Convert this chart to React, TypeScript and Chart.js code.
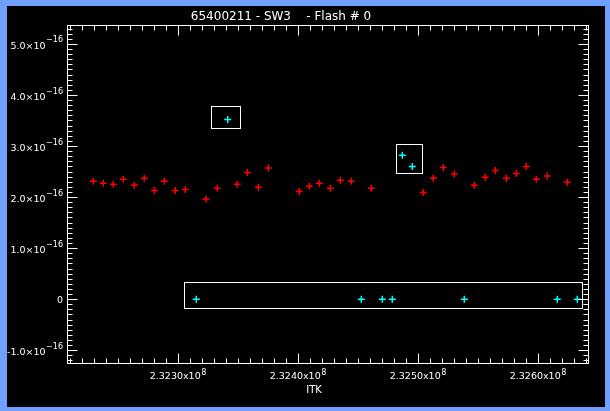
import React, { useEffect, useRef } from 'react';
import { Chart, registerables } from 'chart.js';

Chart.register(...registerables);

const TITLE = '65400211 - SW3    - Flash # 0';
const X_TITLE = 'ITK';

const X_MIN = 232207500;
const X_MAX = 232642500;
const Y_MIN = -1.27; // units of 1e-16
const Y_MAX = 5.37;

const xMajorTicks = [232300000, 232400000, 232500000, 232600000];
const xTickLabels = ['2.3230x10', '2.3240x10', '2.3250x10', '2.3260x10'];
const xTickExp = '8';

const yMajorTicks = [-1, 0, 1, 2, 3, 4, 5];
const yTickLabels = ['-1.0\u00d710', '0', '1.0\u00d710', '2.0\u00d710', '3.0\u00d710', '4.0\u00d710', '5.0\u00d710'];
const yTickExp = '\u221216';

// good points (red)
const redX = [
  232229417, 232237750, 232246083, 232254417, 232263583, 232271917, 232280250, 232288583,
  232297750, 232306083, 232323333, 232332750, 232349417, 232357750, 232366917, 232375250,
  232401083, 232409417, 232417750, 232426917, 232435250, 232444417, 232461083, 232504417,
  232512750, 232521083, 232530250, 232546917, 232556083, 232564417, 232573583, 232581917,
  232590250, 232598583, 232607750, 232624417,
];
const redY = [
  2.31, 2.27, 2.25, 2.35, 2.23, 2.37, 2.13, 2.31,
  2.13, 2.15, 1.96, 2.17, 2.25, 2.48, 2.19, 2.57,
  2.11, 2.21, 2.27, 2.17, 2.33, 2.31, 2.17, 2.09,
  2.37, 2.58, 2.45, 2.23, 2.39, 2.52, 2.37, 2.46,
  2.60, 2.35, 2.41, 2.29,
];

// flagged points (cyan)
const cyanX = [
  232315250, 232341417, 232452750, 232470250, 232478583,
  232486917, 232495250, 232538583, 232616083, 232632750,
];
const cyanY = [0, 3.52, 0, 0, 0, 2.82, 2.6, 0, 0, 0];

// flag boxes (data units)
const boxX0 = [232327750, 232481917, 232305250];
const boxX1 = [232351917, 232503583, 232637000];
const boxY0 = [3.36, 2.48, -0.18];
const boxY1 = [3.79, 3.03, 0.34];

const FONT = '"DejaVu Sans", sans-serif';

const idlPlugin = {
  id: 'idlAxes',
  afterDraw(chart: any) {
    const { ctx, chartArea: a, scales } = chart;
    const xs = scales.x;
    const ys = scales.y;
    const px = (v: number) => Math.round(xs.getPixelForValue(v)) + 0.5;
    const py = (v: number) => Math.round(ys.getPixelForValue(v)) + 0.5;
    ctx.save();
    ctx.strokeStyle = '#ffffff';
    ctx.lineWidth = 1;
    const L = Math.round(a.left) + 0.5;
    const R = Math.round(a.right) - 0.5;
    const T = Math.round(a.top) + 0.5;
    const B = Math.round(a.bottom) - 0.5;
    ctx.strokeRect(L, T, R - L, B - T);

    ctx.beginPath();
    for (let i = -12; i <= 53; i++) {
      const y = py(i / 10);
      const len = i % 10 === 0 ? 10 : 5;
      ctx.moveTo(L, y);
      ctx.lineTo(L + len, y);
      ctx.moveTo(R, y);
      ctx.lineTo(R - len, y);
    }
    for (let i = 23221; i <= 23264; i++) {
      const x = px(i * 10000);
      const len = i % 10 === 0 ? 10 : 5;
      ctx.moveTo(x, B);
      ctx.lineTo(x, B - len);
      ctx.moveTo(x, T);
      ctx.lineTo(x, T + len);
    }
    ctx.stroke();

    // boxes
    for (let i = 0; i < boxX0.length; i++) {
      const x0 = px(boxX0[i]);
      const x1 = px(boxX1[i]);
      const y0 = py(boxY1[i]);
      const y1 = py(boxY0[i]);
      ctx.strokeRect(x0, y0, x1 - x0, y1 - y0);
    }

    ctx.fillStyle = '#ffffff';
    ctx.textBaseline = 'middle';

    // y tick labels
    const mainFont = `9.5px ${FONT}`;
    const expFont = `8px ${FONT}`;
    const yr = a.left - 4;
    yMajorTicks.forEach((v, i) => {
      const y = ys.getPixelForValue(v);
      const txt = yTickLabels[i];
      if (v === 0) {
        ctx.font = mainFont;
        ctx.textAlign = 'right';
        ctx.fillText(txt, yr, y + 1);
        return;
      }
      ctx.font = expFont;
      const ew = ctx.measureText(yTickExp).width;
      ctx.textAlign = 'right';
      ctx.fillText(yTickExp, yr, y - 3.5);
      ctx.font = mainFont;
      ctx.fillText(txt, yr - ew - 0.5, y + 2.5);
    });

    // x tick labels
    xMajorTicks.forEach((v, i) => {
      const x = xs.getPixelForValue(v);
      const txt = xTickLabels[i];
      ctx.font = mainFont;
      const mw = ctx.measureText(txt).width;
      ctx.font = expFont;
      const ew = ctx.measureText(xTickExp).width;
      const x0 = x - (mw + ew + 0.5) / 2;
      ctx.textAlign = 'left';
      ctx.font = mainFont;
      ctx.fillText(txt, x0, a.bottom + 13);
      ctx.font = expFont;
      ctx.fillText(xTickExp, x0 + mw + 0.5, a.bottom + 8.5);
    });

    // x title
    ctx.font = `10px ${FONT}`;
    ctx.textAlign = 'center';
    ctx.fillText(X_TITLE, 307, 384.5);

    // title
    ctx.font = `12px ${FONT}`;
    ctx.textAlign = 'center';
    ctx.fillText(TITLE, 274, 10.5);

    ctx.restore();
  },
};

export default function App() {
  const ref = useRef<HTMLCanvasElement>(null);
  useEffect(() => {
    const canvas = ref.current!;
    const chart = new Chart(canvas, {
      type: 'scatter',
      data: {
        datasets: [
          {
            label: 'good',
            data: redX.map((x, i) => ({ x, y: redY[i] })),
            pointStyle: 'cross',
            pointRadius: 3.5,
            borderColor: '#ff0000',
            backgroundColor: '#ff0000',
            borderWidth: 1.5,
          },
          {
            label: 'flagged',
            data: cyanX.map((x, i) => ({ x, y: cyanY[i] })),
            pointStyle: 'cross',
            pointRadius: 3.5,
            borderColor: '#00ffff',
            backgroundColor: '#00ffff',
            borderWidth: 1.5,
          },
        ],
      },
      options: {
        animation: false,
        responsive: false,
        maintainAspectRatio: false,
        devicePixelRatio: 1,
        events: [],
        layout: { padding: { left: 0, right: 16, top: 19, bottom: 0 } },
        plugins: {
          legend: { display: false },
          title: { display: false },
          tooltip: { enabled: false },
        },
        scales: {
          x: {
            type: 'linear',
            position: 'bottom',
            min: X_MIN,
            max: X_MAX,
            grid: { display: false },
            border: { display: false },
            ticks: { display: false },
            afterBuildTicks: (s: any) => {
              s.ticks = xMajorTicks.map((v) => ({ value: v }));
            },
            afterFit: (s: any) => {
              s.height = 43;
            },
          },
          y: {
            type: 'linear',
            position: 'left',
            min: Y_MIN,
            max: Y_MAX,
            grid: { display: false },
            border: { display: false },
            ticks: { display: false },
            afterBuildTicks: (s: any) => {
              s.ticks = yMajorTicks.map((v) => ({ value: v }));
            },
            afterFit: (s: any) => {
              s.width = 60;
            },
          },
        },
      } as any,
      plugins: [idlPlugin],
    });
    return () => chart.destroy();
  }, []);

  return (
    <div
      style={{
        position: 'fixed',
        left: 0,
        top: 0,
        width: 610,
        height: 411,
        background: '#70a0ff',
      }}
    >
      <div
        style={{
          position: 'absolute',
          left: 7,
          top: 6,
          width: 598,
          height: 401,
          background: '#000000',
        }}
      >
        <canvas ref={ref} width={598} height={401} style={{ display: 'block', width: 598, height: 401 }} />
      </div>
    </div>
  );
}
